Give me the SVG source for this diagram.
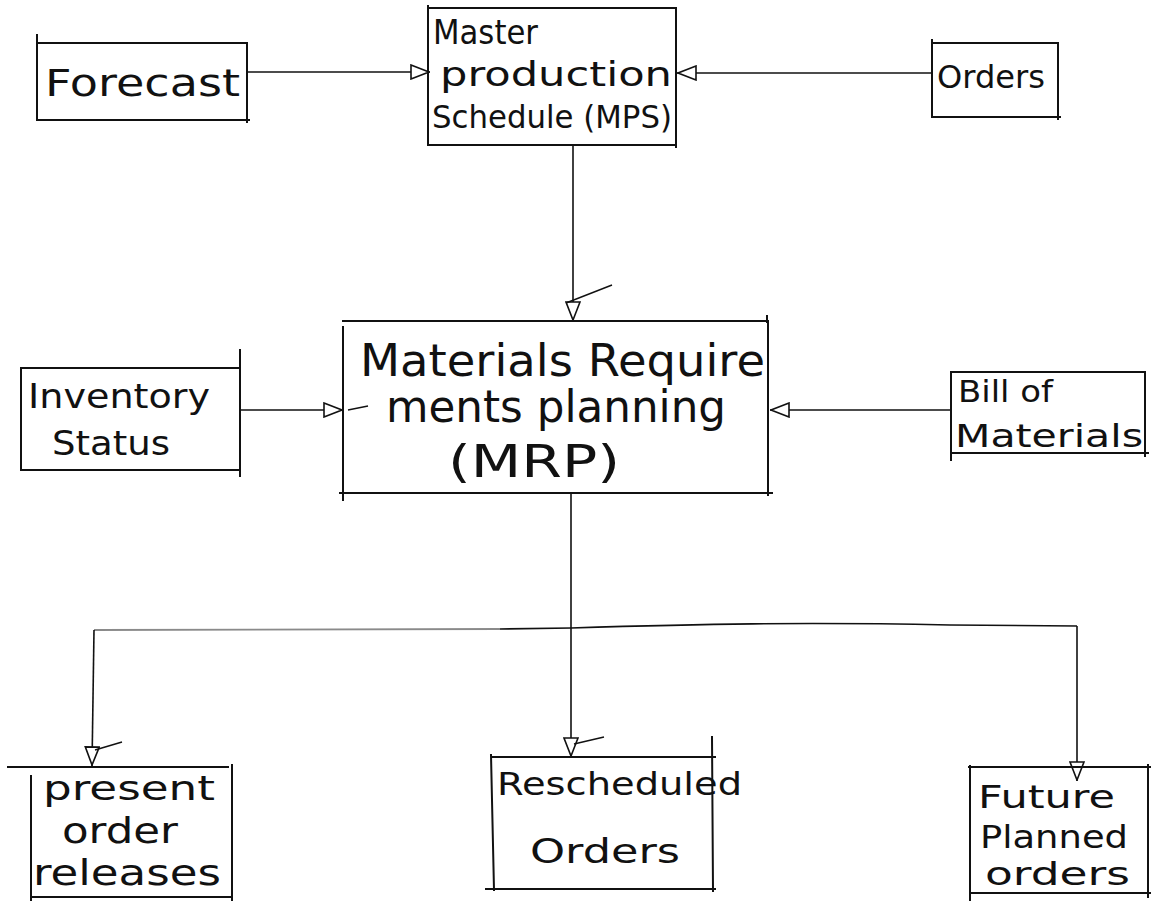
<svg xmlns="http://www.w3.org/2000/svg" width="1156" height="901" viewBox="0 0 1156 901">
  <style>
    .box { fill: none; stroke: #111; stroke-width: 2; stroke-linecap: square; }
    .edge { fill: none; stroke: #111; stroke-width: 1.6; }
    .faint { fill: none; stroke: #8a8a8a; stroke-width: 1.8; }
    .tick { fill: none; stroke: #111; stroke-width: 1.4; }
    .lbl { font-family: "DejaVu Sans", "Liberation Sans", sans-serif; fill: #111; font-weight: normal; }
  </style>
  <defs>
    <!-- open triangular arrowhead used on every flow -->
    <marker id="tri" viewBox="0 0 20 16" refX="20" refY="8" markerWidth="20" markerHeight="16" markerUnits="userSpaceOnUse" orient="auto">
      <path d="M1 1 L19 8 L1 15 Z" fill="#fff" stroke="#111" stroke-width="1.6"/>
    </marker>
  </defs>
  <rect width="1156" height="901" fill="#fff"/>

  <!-- connectors -->
  <g id="connectors">
    <path class="edge" d="M247 72 L430 72" marker-end="url(#tri)"/>
    <path class="edge" d="M932 73 L677 73" marker-end="url(#tri)"/>
    <path class="edge" d="M573 145 L573 321" marker-end="url(#tri)"/>
    <path class="tick" d="M566 303 L612 285"/>
    <path class="edge" d="M240 410 L343 410" marker-end="url(#tri)"/>
    <path class="tick" d="M348 410 L368 406"/>
    <path class="edge" d="M950 410 L770 410" marker-end="url(#tri)"/>
    <path class="edge" d="M571 493 L571 757" marker-end="url(#tri)"/>
    <path class="tick" d="M574 744 L604 737"/>
    <!-- split bus: the left stretch is drawn lighter -->
    <path class="faint" d="M94 630 C250 630 400 630 500 629"/>
    <path class="edge" d="M500 629 L571 628 C700 624 800 622 950 625 L1077 626"/>
    <path class="edge" d="M94 630 L92 766" marker-end="url(#tri)"/>
    <path class="tick" d="M95 750 L122 742"/>
    <path class="edge" d="M1077 626 L1077 781" marker-end="url(#tri)"/>
  </g>

  <g id="forecast">
    <path class="box" d="M37 35 L37 120 L249 120 M37 43 L247 43 L247 122"/>
    <text class="lbl" x="45" y="96" font-size="38" textLength="195" lengthAdjust="spacingAndGlyphs">Forecast</text>
  </g>

  <g id="mps">
    <path class="box" d="M428 6 L428 145 L676 145 M428 8 L676 8 L676 147"/>
    <text class="lbl" x="433" y="44" font-size="34" textLength="105" lengthAdjust="spacingAndGlyphs">Master</text>
    <text class="lbl" x="440" y="86" font-size="34" textLength="232" lengthAdjust="spacingAndGlyphs">production</text>
    <text class="lbl" x="432" y="128" font-size="32" textLength="240" lengthAdjust="spacingAndGlyphs">Schedule (MPS)</text>
  </g>

  <g id="orders">
    <path class="box" d="M932 40 L932 117 L1060 117 M932 43 L1058 43 L1058 119"/>
    <text class="lbl" x="937" y="88" font-size="32" textLength="108" lengthAdjust="spacingAndGlyphs">Orders</text>
  </g>

  <g id="mrp">
    <path class="box" d="M343 327 L343 500 M340 493 L772 493 M343 321 L768 321 L768 495 M767 316 L767 322"/>
    <text class="lbl" x="360" y="376" font-size="44" textLength="405" lengthAdjust="spacingAndGlyphs">Materials Require</text>
    <text class="lbl" x="386" y="422" font-size="44" textLength="340" lengthAdjust="spacingAndGlyphs">ments planning</text>
    <text class="lbl" x="448" y="477" font-size="44" textLength="172" lengthAdjust="spacingAndGlyphs">(MRP)</text>
  </g>

  <g id="inventory">
    <path class="box" d="M21 369 L21 470 L240 470 M21 368 L239 368 M240 350 L240 476"/>
    <text class="lbl" x="28" y="408" font-size="34" textLength="182" lengthAdjust="spacingAndGlyphs">Inventory</text>
    <text class="lbl" x="52" y="455" font-size="34" textLength="118" lengthAdjust="spacingAndGlyphs">Status</text>
  </g>

  <g id="bom">
    <path class="box" d="M951 372 L951 460 M951 453 L1148 453 M951 372 L1145 372 L1145 456"/>
    <text class="lbl" x="958" y="402" font-size="30" textLength="95" lengthAdjust="spacingAndGlyphs">Bill of</text>
    <text class="lbl" x="955" y="447" font-size="32" textLength="188" lengthAdjust="spacingAndGlyphs">Materials</text>
  </g>

  <g id="present">
    <path class="box" d="M8 767 L228 767 M31 776 L31 901 M31 897 L232 897 M232 765 L232 901"/>
    <text class="lbl" x="43" y="800" font-size="34" textLength="172" lengthAdjust="spacingAndGlyphs">present</text>
    <text class="lbl" x="62" y="843" font-size="36" textLength="116" lengthAdjust="spacingAndGlyphs">order</text>
    <text class="lbl" x="33" y="885" font-size="36" textLength="188" lengthAdjust="spacingAndGlyphs">releases</text>
  </g>

  <g id="rescheduled">
    <path class="box" d="M493 757 L715 757 M491 755 L494 890 M486 889 L715 889 M712 737 L713 891"/>
    <text class="lbl" x="497" y="795" font-size="32" textLength="245" lengthAdjust="spacingAndGlyphs">Rescheduled</text>
    <text class="lbl" x="530" y="863" font-size="34" textLength="150" lengthAdjust="spacingAndGlyphs">Orders</text>
  </g>

  <g id="future">
    <path class="box" d="M969 767 L1150 767 M970 766 L970 900 M970 893 L1150 893 M1148 765 L1148 897"/>
    <text class="lbl" x="978" y="808" font-size="32" textLength="137" lengthAdjust="spacingAndGlyphs">Future</text>
    <text class="lbl" x="980" y="848" font-size="32" textLength="148" lengthAdjust="spacingAndGlyphs">Planned</text>
    <text class="lbl" x="985" y="885" font-size="32" textLength="145" lengthAdjust="spacingAndGlyphs">orders</text>
  </g>
</svg>
